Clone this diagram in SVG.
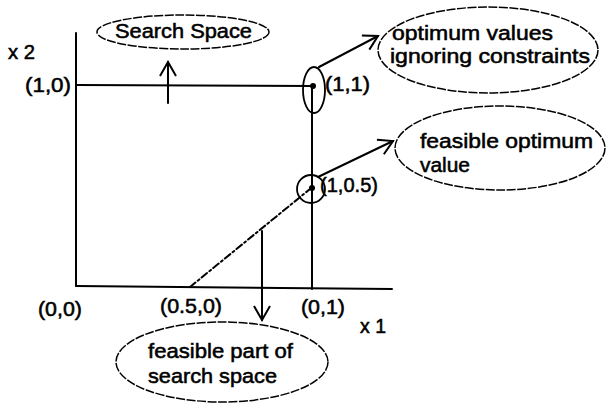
<svg xmlns="http://www.w3.org/2000/svg" width="608" height="403" viewBox="0 0 608 403">
<style>
.t{font-family:"Liberation Sans",Arial,sans-serif;font-size:21px;fill:#000;stroke:#000;stroke-width:0.55}
.ln{stroke:#000;stroke-width:2;fill:none;stroke-linecap:round}
.el{stroke:#000;stroke-width:1.5;fill:none;stroke-dasharray:9 1.5}
.sm{stroke:#000;stroke-width:1.8;fill:none}
</style>
<defs>
<marker id="v" markerUnits="userSpaceOnUse" markerWidth="24" markerHeight="24" refX="0" refY="0" viewBox="-18 -12 24 24" orient="auto">
<path d="M -14 -8 L 0 0 L -14 8" fill="none" stroke="#000" stroke-width="2" stroke-linejoin="miter"/>
</marker>
</defs>
<rect width="608" height="403" fill="#fff"/>
<g id="connectors">
<line class="ln" x1="76" y1="33" x2="76" y2="286"/>
<line class="ln" x1="76" y1="286" x2="392" y2="289"/>
<line class="ln" x1="76" y1="85" x2="313" y2="86"/>
<line class="ln" x1="312" y1="86" x2="312" y2="289"/>
<line class="ln" x1="190" y1="287" x2="310" y2="189" stroke-width="1.6" stroke-dasharray="7 3 2 3"/>
<line class="ln" x1="262" y1="231" x2="262" y2="320" marker-end="url(#v)"/>
<line class="ln" x1="168" y1="103" x2="168" y2="62" marker-end="url(#v)"/>
<line class="ln" x1="319" y1="67" x2="378" y2="36" marker-end="url(#v)"/>
<line class="ln" x1="318" y1="177" x2="393" y2="141" marker-end="url(#v)"/>
</g>
<g id="search-space">
<ellipse class="el" cx="183" cy="32" rx="86" ry="17"/>
<text class="t" x="115" y="38" textLength="137" lengthAdjust="spacingAndGlyphs">Search Space</text>
</g>
<g id="axis-x2"><text class="t" x="8" y="59" textLength="27" lengthAdjust="spacingAndGlyphs">x 2</text></g>
<g id="axis-x1"><text class="t" x="360" y="333" textLength="26" lengthAdjust="spacingAndGlyphs">x 1</text></g>
<g id="p10"><text class="t" x="25" y="92" textLength="46" lengthAdjust="spacingAndGlyphs">(1,0)</text></g>
<g id="p11">
<ellipse class="sm" cx="314" cy="90" rx="11" ry="23"/>
<circle cx="313" cy="86" r="3" fill="#000"/>
<text class="t" x="325" y="91" textLength="45" lengthAdjust="spacingAndGlyphs">(1,1)</text>
</g>
<g id="p105">
<circle class="sm" cx="311" cy="189" r="14"/>
<circle cx="312" cy="188" r="3" fill="#000"/>
<text class="t" x="320" y="192" textLength="58" lengthAdjust="spacingAndGlyphs">(1,0.5)</text>
</g>
<g id="p00"><text class="t" x="38" y="316" textLength="44" lengthAdjust="spacingAndGlyphs">(0,0)</text></g>
<g id="p050"><text class="t" x="160" y="313" textLength="62" lengthAdjust="spacingAndGlyphs">(0.5,0)</text></g>
<g id="p01"><text class="t" x="301" y="314" textLength="44" lengthAdjust="spacingAndGlyphs">(0,1)</text></g>
<g id="optimum-ignoring">
<ellipse class="el" cx="488" cy="50" rx="110" ry="43"/>
<text class="t" x="392" y="40" textLength="161" lengthAdjust="spacingAndGlyphs">optimum values</text>
<text class="t" x="390" y="63" textLength="200" lengthAdjust="spacingAndGlyphs">ignoring constraints</text>
</g>
<g id="feasible-optimum">
<ellipse class="el" cx="500" cy="148" rx="105" ry="42"/>
<text class="t" x="420" y="148" textLength="173" lengthAdjust="spacingAndGlyphs">feasible optimum</text>
<text class="t" x="420" y="172" textLength="50" lengthAdjust="spacingAndGlyphs">value</text>
</g>
<g id="feasible-part">
<ellipse class="el" cx="222" cy="362" rx="106" ry="40"/>
<text class="t" x="148" y="358" textLength="145" lengthAdjust="spacingAndGlyphs">feasible part of</text>
<text class="t" x="148" y="383" textLength="129" lengthAdjust="spacingAndGlyphs">search space</text>
</g>
</svg>
